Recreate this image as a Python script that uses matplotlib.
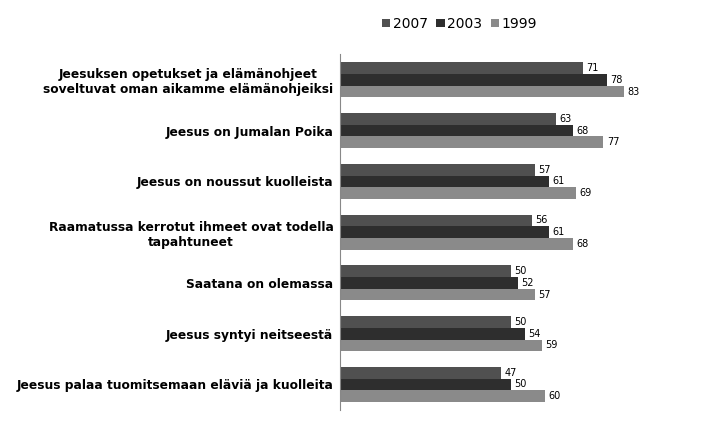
import numpy as np
import matplotlib.pyplot as plt

categories = [
    "Jeesuksen opetukset ja elämänohjeet\nsoveltuvat oman aikamme elämänohjeiksi",
    "Jeesus on Jumalan Poika",
    "Jeesus on noussut kuolleista",
    "Raamatussa kerrotut ihmeet ovat todella\ntapahtuneet",
    "Saatana on olemassa",
    "Jeesus syntyi neitseestä",
    "Jeesus palaa tuomitsemaan eläviä ja kuolleita",
]
years = ["2007", "2003", "1999"]
v2007 = [71, 63, 57, 56, 50, 50, 47]
v2003 = [78, 68, 61, 61, 52, 54, 50]
v1999 = [83, 77, 69, 68, 57, 59, 60]
colors = ["#505050", "#2e2e2e", "#8a8a8a"]

fig = plt.figure(figsize=(7.18, 4.36), dpi=100)
ax = fig.add_axes([0.474, 0.06, 0.476, 0.815])
y = np.arange(len(categories))
h = 0.23
for i, (vals, lab) in enumerate(zip([v2007, v2003, v1999], years)):
    pos = y + (i - 1) * h
    ax.barh(pos, vals, height=h, color=colors[i], label=lab)
    for p, v in zip(pos, vals):
        ax.text(v + 1, p, str(v), va="center", ha="left", fontsize=7)

ax.set_xlim(0, 100)
ax.set_ylim(len(categories) - 0.5, -0.5)
ax.set_yticks(y)
ax.set_yticklabels(categories, fontsize=8.8, fontweight="bold", ha="right",
                   multialignment="center")
ax.tick_params(axis="y", length=0, pad=5)
ax.set_xticks([])
for s in ["top", "right", "bottom"]:
    ax.spines[s].set_visible(False)
ax.spines["left"].set_color("#888888")
fig.legend(loc="upper center", bbox_to_anchor=(0.64, 0.99), ncol=3, frameon=False,
           fontsize=10, handlelength=0.6, handleheight=0.6, columnspacing=0.6, handletextpad=0.2)
fig.savefig("out.png")
